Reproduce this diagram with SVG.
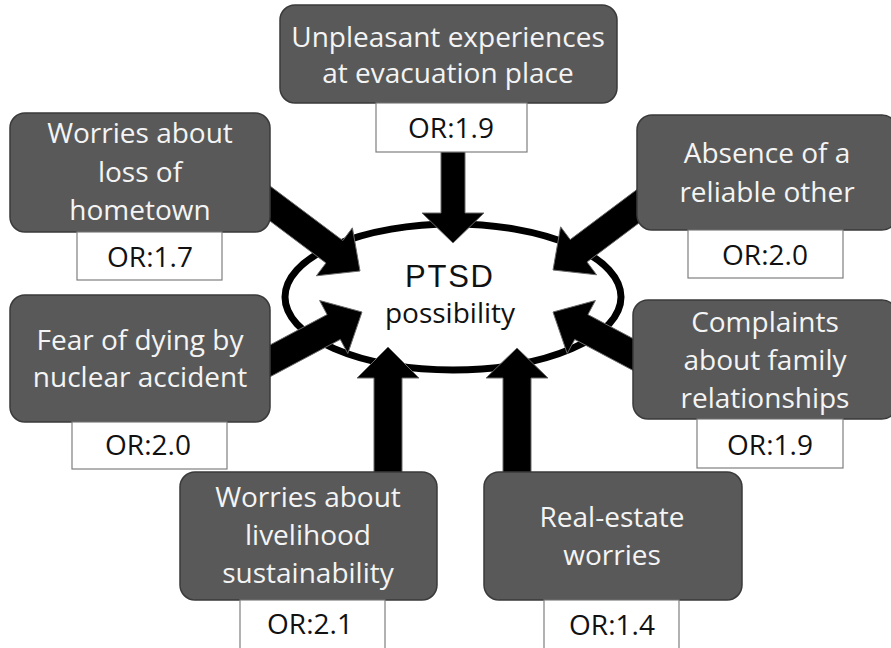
<svg xmlns="http://www.w3.org/2000/svg" width="891" height="648" viewBox="0 0 891 648">
<style>
.box{fill:#595959;stroke:#3a3a3a;stroke-width:1.5}
.or{fill:#ffffff;stroke:#7f7f7f;stroke-width:1.2}
.lt{font-family:"Open Sans","Noto Sans",sans-serif;font-size:28px;fill:#f4f4f4;text-anchor:middle}
.ot{font-family:"Open Sans","Noto Sans",sans-serif;font-size:28px;fill:#111111;text-anchor:middle}
.arrow{fill:#000000;stroke:#6a6a6a;stroke-width:1;stroke-linejoin:miter}
</style>
<rect width="891" height="648" fill="#ffffff"/>
<g id="ptsd">
<ellipse cx="453" cy="297" rx="168" ry="73" fill="#ffffff" stroke="#000000" stroke-width="7"/>
<text x="449" y="287" style="font-family:'Liberation Sans',Arial,sans-serif;font-size:31px;fill:#111111;text-anchor:middle" textLength="88" lengthAdjust="spacing">PTSD</text>
<text x="450" y="323" class="ot">possibility</text>
</g>
<g id="connectors">
<polygon class="arrow" points="441,150 441,213 422,213 453,243 484,213 465,213 465,150"/>
<polygon class="arrow" points="231.6,192.2 326,263 316.4,275.8 360,271 352.4,227.8 342.8,240.6 248.4,169.8"/>
<polygon class="arrow" points="664.6,168.8 570.2,239.6 560.6,226.8 553,270 596.6,274.8 587,262 681.4,191.2"/>
<polygon class="arrow" points="223,370 327.1,314.6 319.6,300.5 362,312 347.8,353.5 340.3,339.4 236.2,394.8"/>
<polygon class="arrow" points="374,475 374,378 357,378 388,347 419,378 402,378 402,475"/>
<polygon class="arrow" points="503,475 503,378 486,378 517,348 548,378 531,378 531,475"/>
<polygon class="arrow" points="692,370 587.9,314.6 595.4,300.5 553,312 567.2,353.5 574.7,339.4 678.9,394.8"/>
</g>
<g id="n-evacuation">
<rect class="box" x="280" y="5" width="337" height="98" rx="15"/>
<text class="lt" x="448" y="47">Unpleasant experiences</text>
<text class="lt" x="448" y="83">at evacuation place</text>
<rect class="or" x="376" y="103" width="151" height="49"/>
<text class="ot" x="451" y="138">OR:1.9</text>
</g>
<g id="n-hometown">
<rect class="box" x="10" y="113" width="260" height="119" rx="15"/>
<text class="lt" x="140" y="143">Worries about</text>
<text class="lt" x="140" y="182">loss of</text>
<text class="lt" x="140" y="220">hometown</text>
<rect class="or" x="77" y="232" width="145" height="48"/>
<text class="ot" x="150" y="267">OR:1.7</text>
</g>
<g id="n-reliable">
<rect class="box" x="637" y="115" width="260" height="115" rx="15"/>
<text class="lt" x="767" y="163">Absence of a</text>
<text class="lt" x="767" y="202">reliable other</text>
<rect class="or" x="688" y="230" width="155" height="48"/>
<text class="ot" x="765" y="265">OR:2.0</text>
</g>
<g id="n-nuclear">
<rect class="box" x="10" y="295" width="260" height="127" rx="15"/>
<text class="lt" x="140" y="350">Fear of dying by</text>
<text class="lt" x="140" y="387">nuclear accident</text>
<rect class="or" x="72" y="422" width="155" height="47"/>
<text class="ot" x="148" y="455">OR:2.0</text>
</g>
<g id="n-family">
<rect class="box" x="633" y="300" width="264" height="119" rx="15"/>
<text class="lt" x="765" y="332">Complaints</text>
<text class="lt" x="765" y="370">about family</text>
<text class="lt" x="765" y="408">relationships</text>
<rect class="or" x="697" y="419" width="146" height="49"/>
<text class="ot" x="770" y="455">OR:1.9</text>
</g>
<g id="n-livelihood">
<rect class="box" x="180" y="472" width="257" height="128" rx="15"/>
<text class="lt" x="308" y="507">Worries about</text>
<text class="lt" x="308" y="545">livelihood</text>
<text class="lt" x="308" y="583">sustainability</text>
<rect class="or" x="240" y="600" width="145" height="52"/>
<text class="ot" x="310" y="634">OR:2.1</text>
</g>
<g id="n-realestate">
<rect class="box" x="484" y="472" width="258" height="128" rx="15"/>
<text class="lt" x="612" y="527">Real-estate</text>
<text class="lt" x="612" y="565">worries</text>
<rect class="or" x="544" y="600" width="135" height="52"/>
<text class="ot" x="612" y="635">OR:1.4</text>
</g>
</svg>
